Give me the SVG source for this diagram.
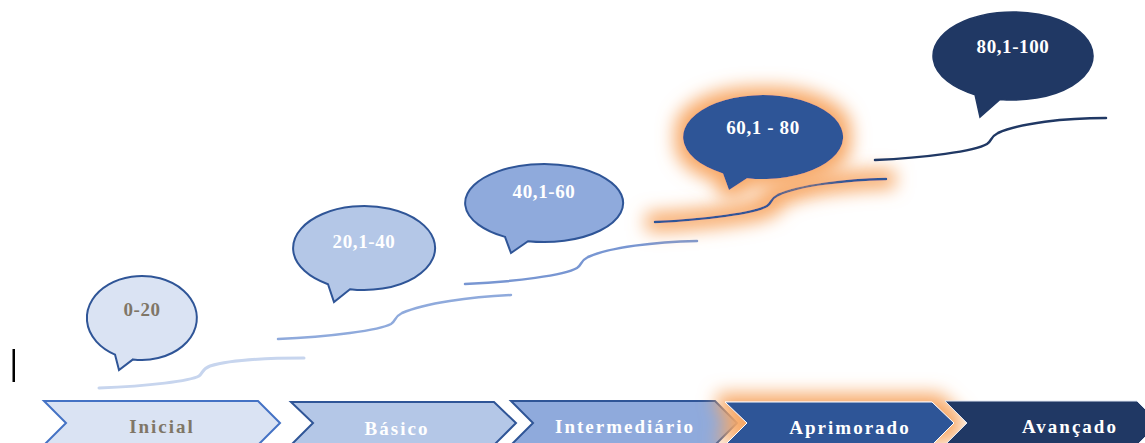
<svg xmlns="http://www.w3.org/2000/svg" width="1145" height="443" viewBox="0 0 1145 443">
<defs>
<filter id="glow" filterUnits="userSpaceOnUse" x="0" y="0" width="1145" height="443">
<feMorphology in="SourceAlpha" operator="dilate" radius="8" result="d"/>
<feGaussianBlur in="d" stdDeviation="9" result="b"/>
<feFlood flood-color="#f7a866" flood-opacity="1"/>
<feComposite in2="b" operator="in" result="g"/>
<feMerge><feMergeNode in="g"/><feMergeNode in="SourceGraphic"/></feMerge>
</filter>
</defs>
<style>
.t{font-family:"Liberation Serif","Times New Roman",serif;font-weight:bold;text-anchor:middle}
.bt{font-size:19px;letter-spacing:0.6px}
.ct{font-size:19px;letter-spacing:2px}
.step{fill:none;stroke-linecap:round}
</style>
<rect width="1145" height="443" fill="#ffffff"/>
<rect x="12.5" y="349" width="2.5" height="33" fill="#000000"/>

<g id="connectors">
<path class="step" d="M99,388 C150,386 190,381 199,376 C203,373 202,369 210,366 C230,360 270,358 304,358" stroke="#c7d5ee" stroke-width="3"/>
<path class="step" d="M278,339 C330,337 380,330 391,324 C396,321 394,317 402,313 C425,303 470,297 511,295" stroke="#8faadc" stroke-width="2.5"/>
<path class="step" d="M465,284 C515,282 565,275 577,268 C582,265 580,261 588,257 C610,247 655,242 697,241" stroke="#7896d2" stroke-width="2.5"/>
<path class="step" d="M655,222 C705,220 755,213 767,206 C772,203 770,199 778,195 C800,185 845,180 886,179" stroke="#2f5597" stroke-width="2.5" filter="url(#glow)"/>
<path class="step" d="M875,160 C925,158 975,151 987,144 C992,141 990,137 998,133 C1020,123 1065,118 1106,118" stroke="#203864" stroke-width="2.5"/>
</g>

<g id="bubble-0-20">
<path d="M133,359.4 A55 42 0 1 0 115,354.6 L119,370 Z" fill="#dae3f3" stroke="#2f5597" stroke-width="2"/>
<text class="t bt" x="142" y="316" fill="#7f7667">0-20</text>
</g>
<g id="bubble-20-40">
<path d="M350,289.2 A71 42 0 1 0 328,284.2 L334,302 Z" fill="#b4c7e7" stroke="#2f5597" stroke-width="2"/>
<text class="t bt" x="364" y="248" fill="#ffffff">20,1-40</text>
</g>
<g id="bubble-40-60">
<path d="M528,241.2 A79 39 0 1 0 505,236.9 L511,253 Z" fill="#8faadc" stroke="#2f5597" stroke-width="2"/>
<text class="t bt" x="544" y="198" fill="#ffffff">40,1-60</text>
</g>
<g id="bubble-60-80">
<path d="M747,178.2 A80 42 0 1 0 723,173.4 L729,190 Z" fill="#2f5597" filter="url(#glow)"/>
<text class="t bt" x="763" y="134" fill="#ffffff">60,1 - 80</text>
</g>
<g id="bubble-80-100">
<path d="M1000,99.4 A80 44 0 1 0 975,94.7 L980,117 Z" fill="#203864" stroke="#203864" stroke-width="1.5"/>
<text class="t bt" x="1013" y="53" fill="#ffffff">80,1-100</text>
</g>

<g id="stage-inicial">
<path d="M44,401 L258,401 L280,423 L258,445 L44,445 L66,423 Z" fill="#dae3f3" stroke="#4472c4" stroke-width="2"/>
<text class="t ct" x="162" y="433" fill="#7f7667">Inicial</text>
</g>
<g id="stage-basico">
<path d="M291,402 L494,402 L516,423 L494,445 L291,445 L313,423 Z" fill="#b4c7e7" stroke="#2f5597" stroke-width="2"/>
<text class="t ct" x="397" y="435" fill="#ffffff">Básico</text>
</g>
<g id="stage-intermediario">
<path d="M511,401 L715,401 L737,423 L715,445 L511,445 L533,423 Z" fill="#8faadc" stroke="#2f5597" stroke-width="2"/>
<text class="t ct" x="625" y="433" fill="#ffffff">Intermediário</text>
</g>
<g id="stage-aprimorado">
<path d="M725,402 L932,402 L954,423 L932,445 L725,445 L747,423 Z" fill="#2f5597" stroke="#ffffff" stroke-width="1" filter="url(#glow)"/>
<text class="t ct" x="850" y="434" fill="#ffffff">Aprimorado</text>
</g>
<g id="stage-avancado">
<path d="M945,401 L1137,401 L1159,423 L1137,445 L945,445 L967,423 Z" fill="#203864" stroke="#dfe6f3" stroke-width="1"/>
<text class="t ct" x="1070" y="433" fill="#ffffff">Avançado</text>
</g>
</svg>
